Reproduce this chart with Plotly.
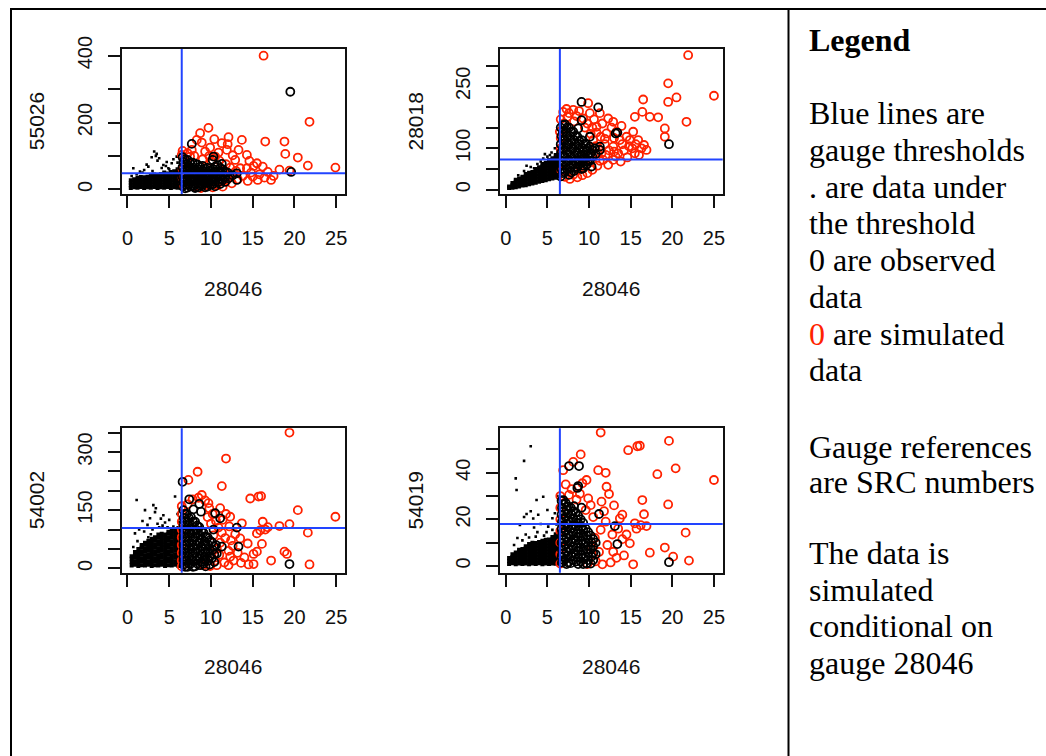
import plotly.graph_objects as go

W, H = 1046, 756

# ---------------- data ----------------
X_TITLE = "28046"
GAUGE_LABELS = ["55026", "28018", "54002", "54019"]
X_TICKS = [0, 5, 10, 15, 20, 25]
X_TICK_LABELS = ["0", "5", "10", "15", "20", "25"]
X_THRESHOLD = 6.5
Y_THRESHOLDS = [48, 73, 104, 18]
Y_TICKS = [
    [0, 100, 200, 300, 400],
    [0, 50, 100, 150, 200, 250, 300],
    [0, 50, 100, 150, 200, 250, 300, 350],
    [0, 10, 20, 30, 40, 50],
]
Y_TICK_LABELS = [
    ["0", "", "200", "", "400"],
    ["0", "", "100", "", "", "250", ""],
    ["0", "", "", "150", "", "", "300", ""],
    ["0", "", "20", "", "40", ""],
]
X_RANGE = [-0.69, 26.05]
Y_RANGES = [[-14, 420], [-10.4, 340], [-11.3, 361], [-2.9, 59.1]]

# ---- panel 1 : 55026 ----
P1_DOTS = [
    (0.4, 4), (0.4, 12), (0.4, 20), (0.4, 27),
    (0.8, 6), (0.8, 14), (0.8, 22), (0.8, 30),
    (1.2, 5), (1.2, 13), (1.2, 21), (1.2, 29), (1.2, 35),
    (1.6, 7), (1.6, 15), (1.6, 23), (1.6, 31), (1.6, 37),
    (2.0, 4), (2.0, 12), (2.0, 20), (2.0, 28), (2.0, 36),
    (2.4, 6), (2.4, 14), (2.4, 22), (2.4, 30), (2.4, 38),
    (2.8, 5), (2.8, 13), (2.8, 21), (2.8, 29), (2.8, 37), (2.8, 42),
    (3.2, 7), (3.2, 15), (3.2, 23), (3.2, 31), (3.2, 39), (3.2, 44),
    (3.6, 4), (3.6, 12), (3.6, 20), (3.6, 28), (3.6, 36), (3.6, 43),
    (4.0, 6), (4.0, 14), (4.0, 22), (4.0, 30), (4.0, 38), (4.0, 46),
    (4.4, 5), (4.4, 13), (4.4, 21), (4.4, 29), (4.4, 37), (4.4, 45), (4.4, 50),
    (4.8, 7), (4.8, 15), (4.8, 23), (4.8, 31), (4.8, 39), (4.8, 47),
    (5.2, 4), (5.2, 12), (5.2, 20), (5.2, 28), (5.2, 36), (5.2, 44), (5.2, 52),
    (5.6, 6), (5.6, 14), (5.6, 22), (5.6, 30), (5.6, 38), (5.6, 46), (5.6, 54),
    (6.0, 5), (6.0, 13), (6.0, 21), (6.0, 29), (6.0, 37), (6.0, 45), (6.0, 53), (6.0, 60),
    (6.3, 7), (6.3, 15), (6.3, 23), (6.3, 31), (6.3, 39), (6.3, 47), (6.3, 56),
]
P1_DOTS_SPARSE = [
    (3.2, 113), (3.5, 106), (2.9, 96), (3.8, 93), (4.3, 73), (2.5, 68), (1.5, 53),
    (4.9, 63), (5.3, 78), (5.9, 98), (6.0, 80), (4.7, 82), (2.3, 74), (0.7, 63),
    (3.6, 86), (4.1, 64), (5.5, 90), (2.0, 58), (6.2, 70), (1.1, 45), (0.5, 40),
    (3.0, 55), (5.0, 60), (3.4, 100), (4.6, 70), (1.8, 50),
]
P1_SIM = [
    (16.3, 400), (21.8, 202), (9.7, 184), (12.1, 156), (13.7, 148), (16.5, 143),
    (18.8, 143), (18.9, 106), (20.4, 95), (21.6, 71), (24.9, 65), (19.4, 56),
    (18.2, 59), (17.2, 28), (15.6, 28), (14.4, 25), (14.3, 103), (15.5, 78),
    (15.1, 70), (16.2, 68), (12.9, 88), (13.5, 63), (11.9, 118), (11.3, 138),
    (8.7, 168), (8.3, 148), (7.7, 118), (6.5, 103), (9.3, 113), (10.5, 98),
    (12.7, 48), (11.9, 28), (11.1, 23), (7.9, 8), (9.5, 13), (14.3, 63),
    (15.0, 38), (10.9, 110), (9.9, 125), (8.0, 100), (7.2, 108), (6.6, 115),
    (6.8, 92), (7.5, 98), (9.0, 90), (10.0, 85), (11.0, 86), (11.8, 75),
    (12.3, 65), (11.5, 55), (12.0, 40), (13.0, 55), (13.8, 40), (14.8, 50),
    (15.8, 45), (16.4, 35), (13.2, 30), (12.5, 18), (10.7, 12), (8.8, 4),
    (10.2, 6), (11.4, 8), (9.8, 100), (12.6, 102), (13.3, 118), (14.6, 85),
    (16.8, 52), (17.5, 40), (12.0, 135), (10.4, 150), (8.9, 140), (7.0, 75),
    (6.6, 60), (6.6, 35), (6.7, 12),
]
P1_OBS = [
    (19.5, 292), (7.7, 136), (19.6, 52), (13.1, 48), (13.1, 28), (10.3, 98),
    (11.3, 76), (8.7, 18), (10.1, 23),
    (6.6, 96), (6.7, 82), (6.6, 66), (6.7, 51), (6.6, 37), (6.7, 22), (6.6, 9),
    (7.2, 88), (7.3, 71), (7.2, 57), (7.3, 43), (7.2, 29), (7.3, 15), (7.2, 5),
    (7.8, 80), (7.9, 65), (7.8, 51), (7.9, 37), (7.8, 23), (7.9, 10),
    (8.4, 74), (8.5, 60), (8.4, 46), (8.5, 32), (8.4, 19), (8.5, 6),
    (9.0, 70), (9.1, 55), (9.0, 41), (9.1, 27), (9.0, 13),
    (9.6, 64), (9.7, 49), (9.6, 35), (9.7, 21), (9.6, 8),
    (10.2, 88), (10.3, 60), (10.2, 45), (10.3, 30), (10.2, 15),
    (10.8, 72), (10.9, 54), (10.8, 38), (10.9, 22),
    (11.4, 60), (11.5, 43), (11.4, 28), (12.0, 50), (12.1, 33), (12.6, 42),
    (6.9, 89), (6.9, 74), (6.9, 59), (6.9, 44), (6.9, 29), (6.9, 15), (6.9, 3),
    (7.5, 80), (7.5, 64), (7.5, 50), (7.5, 36), (7.5, 22), (7.5, 9),
    (8.1, 77), (8.1, 58), (8.1, 44), (8.1, 30), (8.1, 16), (8.1, 4),
    (8.7, 67), (8.7, 53), (8.7, 39), (8.7, 25), (8.7, 11),
    (9.3, 62), (9.3, 48), (9.3, 34), (9.3, 20), (9.3, 6),
    (9.9, 57), (9.9, 42), (9.9, 28), (9.9, 14),
    (10.5, 68), (10.5, 52), (10.5, 37), (10.5, 22), (10.5, 9),
    (11.1, 64), (11.1, 47), (11.1, 32), (11.1, 16),
    (11.7, 52), (11.7, 36), (11.7, 22),
]

# ---- panel 2 : 28018 ----
P2_DOTS = [
    (0.4, 4), (0.4, 8),
    (0.8, 5), (0.8, 11), (0.8, 16),
    (1.2, 6), (1.2, 12), (1.2, 19), (1.2, 24),
    (1.6, 8), (1.6, 14), (1.6, 21), (1.6, 27),
    (2.0, 10), (2.0, 17), (2.0, 24), (2.0, 31),
    (2.4, 11), (2.4, 18), (2.4, 25), (2.4, 32), (2.4, 38),
    (2.8, 13), (2.8, 20), (2.8, 27), (2.8, 34), (2.8, 41),
    (3.2, 15), (3.2, 22), (3.2, 29), (3.2, 36), (3.2, 43),
    (3.6, 17), (3.6, 24), (3.6, 31), (3.6, 38), (3.6, 45), (3.6, 50),
    (4.0, 19), (4.0, 26), (4.0, 33), (4.0, 40), (4.0, 47), (4.0, 54),
    (4.4, 21), (4.4, 28), (4.4, 35), (4.4, 42), (4.4, 49), (4.4, 56), (4.4, 62),
    (4.8, 23), (4.8, 30), (4.8, 37), (4.8, 44), (4.8, 51), (4.8, 58), (4.8, 65),
    (5.2, 25), (5.2, 32), (5.2, 39), (5.2, 46), (5.2, 53), (5.2, 60), (5.2, 67), (5.2, 72),
    (5.6, 27), (5.6, 34), (5.6, 41), (5.6, 48), (5.6, 55), (5.6, 62), (5.6, 69), (5.6, 76),
    (6.0, 29), (6.0, 36), (6.0, 43), (6.0, 50), (6.0, 57), (6.0, 64), (6.0, 71), (6.0, 78), (6.0, 84),
    (6.3, 31), (6.3, 38), (6.3, 45), (6.3, 52), (6.3, 59), (6.3, 66), (6.3, 73), (6.3, 80), (6.3, 87),
]
P2_DOTS_SPARSE = [
    (4.7, 86), (2.5, 58), (3.0, 55), (4.2, 68), (5.0, 80), (5.5, 90), (3.8, 62),
    (1.5, 35), (6.2, 95), (5.9, 100), (2.2, 45), (4.5, 75), (3.4, 52), (5.3, 84),
]
P2_SIM = [
    (21.9, 325), (19.5, 257), (25.0, 227), (20.5, 223), (19.5, 212), (16.5, 218),
    (16.4, 188), (17.3, 176), (18.3, 175), (15.5, 176), (21.7, 164), (19.1, 148),
    (19.1, 128), (13.9, 154), (15.3, 140), (14.9, 120), (15.9, 120), (16.9, 96),
    (15.5, 88), (12.3, 172), (11.3, 185), (10.1, 185), (10.9, 152), (12.1, 136),
    (12.9, 104), (13.5, 88), (11.5, 88), (11.7, 72), (12.9, 72), (8.1, 36),
    (7.1, 31), (8.9, 56), (9.5, 72), (6.9, 188), (6.5, 140), (8.1, 193),
    (9.9, 209), (7.4, 176), (12.9, 164), (11.9, 123), (14.5, 128), (13.3, 140),
    (13.7, 120), (10.5, 120), (11.0, 88), (10.1, 80),
    (6.6, 170), (7.0, 160), (7.6, 185), (8.5, 178), (9.3, 172), (9.8, 160),
    (10.4, 150), (10.9, 138), (11.4, 128), (11.9, 110), (12.4, 95), (13.2, 80),
    (14.2, 95), (14.8, 105), (15.6, 110), (16.3, 100), (16.0, 84), (14.6, 78),
    (13.8, 68), (12.3, 60), (11.0, 58), (10.4, 48), (9.8, 40), (9.2, 35),
    (8.6, 30), (7.7, 26), (6.7, 45), (6.6, 100), (6.6, 125), (10.8, 105),
    (10.2, 135), (9.5, 150), (8.2, 165),
    (7.3, 195), (8.8, 190), (10.6, 170), (11.6, 160), (12.7, 150), (13.0, 125),
    (14.0, 110), (15.2, 100), (16.6, 108), (12.0, 84), (13.0, 92), (11.3, 70),
]
P2_OBS = [
    (9.1, 212), (11.1, 199), (13.2, 136), (13.4, 138), (19.6, 110), (9.1, 168),
    (8.7, 148), (10.3, 56), (9.3, 52), (6.9, 156), (10.1, 128), (11.3, 104),
    (6.6, 150), (6.7, 130), (6.6, 110), (6.7, 90), (6.6, 70), (6.7, 50), (6.6, 32),
    (7.1, 158), (7.2, 140), (7.1, 120), (7.2, 100), (7.1, 80), (7.2, 60), (7.1, 42),
    (7.6, 150), (7.7, 130), (7.6, 110), (7.7, 90), (7.6, 70), (7.7, 52), (7.6, 36),
    (8.1, 140), (8.2, 120), (8.1, 100), (8.2, 80), (8.1, 60), (8.2, 45),
    (8.6, 128), (8.7, 110), (8.6, 90), (8.7, 70), (8.6, 55),
    (9.1, 120), (9.2, 100), (9.1, 84), (9.2, 66), (9.1, 50),
    (9.6, 110), (9.7, 94), (9.6, 76), (9.7, 60),
    (10.1, 104), (10.2, 88), (10.1, 70), (10.7, 100), (10.8, 86), (11.3, 96),
    (6.85, 140), (6.85, 120), (6.85, 100), (6.85, 80), (6.85, 60), (6.85, 40),
    (7.35, 150), (7.35, 130), (7.35, 110), (7.35, 90), (7.35, 70), (7.35, 50),
    (7.85, 140), (7.85, 120), (7.85, 100), (7.85, 80), (7.85, 60), (7.85, 42),
    (8.35, 130), (8.35, 110), (8.35, 90), (8.35, 70), (8.35, 52),
    (8.85, 118), (8.85, 100), (8.85, 80), (8.85, 62),
    (9.35, 110), (9.35, 92), (9.35, 74), (9.35, 58),
    (9.85, 100), (9.85, 84), (9.85, 68), (10.4, 95), (10.4, 80),
]

# ---- panel 3 : 54002 ----
P3_DOTS = [
    (0.5, 7), (0.5, 16), (0.5, 25), (0.5, 31),
    (0.9, 9), (0.9, 18), (0.9, 27), (0.9, 36), (0.9, 42),
    (1.3, 6), (1.3, 15), (1.3, 24), (1.3, 33), (1.3, 42), (1.3, 50),
    (1.7, 8), (1.7, 17), (1.7, 26), (1.7, 35), (1.7, 44), (1.7, 53), (1.7, 60),
    (2.1, 7), (2.1, 16), (2.1, 25), (2.1, 34), (2.1, 43), (2.1, 52), (2.1, 61), (2.1, 66),
    (2.5, 9), (2.5, 18), (2.5, 27), (2.5, 36), (2.5, 45), (2.5, 54), (2.5, 63), (2.5, 71),
    (2.9, 6), (2.9, 15), (2.9, 24), (2.9, 33), (2.9, 42), (2.9, 51), (2.9, 60), (2.9, 69), (2.9, 76),
    (3.3, 8), (3.3, 17), (3.3, 26), (3.3, 35), (3.3, 44), (3.3, 53), (3.3, 62), (3.3, 71), (3.3, 80),
    (3.7, 7), (3.7, 16), (3.7, 25), (3.7, 34), (3.7, 43), (3.7, 52), (3.7, 61), (3.7, 70), (3.7, 79), (3.7, 87),
    (4.1, 9), (4.1, 18), (4.1, 27), (4.1, 36), (4.1, 45), (4.1, 54), (4.1, 63), (4.1, 72), (4.1, 81), (4.1, 89),
    (4.5, 6), (4.5, 15), (4.5, 24), (4.5, 33), (4.5, 42), (4.5, 51), (4.5, 60), (4.5, 69), (4.5, 78), (4.5, 87),
    (4.9, 8), (4.9, 17), (4.9, 26), (4.9, 35), (4.9, 44), (4.9, 53), (4.9, 62), (4.9, 71), (4.9, 80), (4.9, 89), (4.9, 94),
    (5.3, 7), (5.3, 16), (5.3, 25), (5.3, 34), (5.3, 43), (5.3, 52), (5.3, 61), (5.3, 70), (5.3, 79), (5.3, 88), (5.3, 96),
    (5.7, 9), (5.7, 18), (5.7, 27), (5.7, 36), (5.7, 45), (5.7, 54), (5.7, 63), (5.7, 72), (5.7, 81), (5.7, 90), (5.7, 98),
    (6.1, 6), (6.1, 15), (6.1, 24), (6.1, 33), (6.1, 42), (6.1, 51), (6.1, 60), (6.1, 69), (6.1, 78), (6.1, 87), (6.1, 96), (6.1, 104),
    (6.4, 8), (6.4, 17), (6.4, 26), (6.4, 35), (6.4, 44), (6.4, 53), (6.4, 62), (6.4, 71), (6.4, 80), (6.4, 89), (6.4, 100),
]
P3_DOTS_SPARSE = [
    (1.1, 176), (2.1, 150), (3.1, 163), (3.4, 155), (3.3, 145), (4.3, 137), (4.0, 128),
    (2.7, 129), (1.8, 122), (5.7, 185), (4.5, 118), (2.4, 112), (3.6, 115), (5.0, 125),
    (1.4, 100), (0.9, 90), (2.0, 95), (3.8, 106), (5.5, 108), (4.8, 106), (6.0, 140),
    (6.2, 120), (1.2, 70), (2.8, 88), (3.0, 100), (4.2, 110), (2.5, 80), (0.7, 55),
]
P3_SIM = [
    (19.4, 350), (11.8, 283), (8.4, 249), (7.3, 228), (11.3, 212), (14.7, 180),
    (15.7, 185), (16.0, 186), (8.9, 189), (9.7, 168), (20.4, 150), (24.9, 133),
    (11.1, 155), (12.3, 133), (13.7, 116), (16.2, 120), (16.8, 106), (18.2, 109),
    (19.4, 114), (21.6, 92), (15.5, 90), (15.9, 98), (16.5, 100), (13.5, 77),
    (14.4, 64), (16.1, 63), (18.8, 43), (19.1, 37), (15.5, 43), (15.1, 37),
    (12.3, 30), (17.2, 20), (15.1, 11), (21.8, 10), (10.7, 8), (12.1, 8),
    (14.5, 10), (9.1, 8),
    (6.5, 160), (6.5, 140), (6.5, 120), (6.5, 100), (6.5, 80), (6.5, 60),
    (6.5, 40), (6.5, 20), (6.5, 5),
    (7.2, 165), (7.8, 178), (8.5, 182), (9.3, 175), (9.8, 155), (10.2, 140),
    (10.6, 122), (10.9, 105), (11.3, 92), (11.7, 78), (11.1, 66), (10.7, 50),
    (11.0, 35), (10.5, 20), (9.9, 6), (11.6, 15), (12.1, 45), (12.6, 58),
    (12.9, 88), (12.2, 108), (11.8, 140), (10.0, 115), (12.7, 20), (13.2, 40),
    (14.0, 28), (13.6, 14), (11.4, 125), (12.4, 72), (10.3, 85), (9.6, 132),
]
P3_OBS = [
    (6.6, 223), (7.4, 178), (8.6, 166), (8.8, 146), (10.5, 142), (11.1, 129),
    (13.1, 105), (11.3, 56), (13.3, 56), (19.4, 11), (7.9, 152), (10.3, 100),
    (6.7, 150), (6.75, 130), (6.7, 110), (6.75, 90), (6.7, 70), (6.75, 50), (6.7, 30), (6.75, 10),
    (7.1, 140), (7.2, 120), (7.1, 100), (7.2, 80), (7.1, 60), (7.2, 40), (7.1, 20), (7.2, 4),
    (7.6, 132), (7.7, 110), (7.6, 90), (7.7, 70), (7.6, 50), (7.7, 30), (7.6, 12),
    (8.1, 120), (8.2, 100), (8.1, 80), (8.2, 60), (8.1, 40), (8.2, 20), (8.1, 5),
    (8.6, 106), (8.7, 85), (8.6, 65), (8.7, 45), (8.6, 25), (8.7, 8),
    (9.1, 92), (9.2, 70), (9.1, 50), (9.2, 30), (9.1, 12),
    (9.6, 80), (9.7, 60), (9.6, 40), (9.7, 20),
    (10.1, 68), (10.2, 48), (10.1, 26), (10.6, 60), (10.7, 38),
    (6.9, 140), (6.9, 120), (6.9, 100), (6.9, 80), (6.9, 60), (6.9, 40), (6.9, 20), (6.9, 4),
    (7.35, 130), (7.35, 110), (7.35, 90), (7.35, 70), (7.35, 50), (7.35, 30), (7.35, 12),
    (7.85, 120), (7.85, 100), (7.85, 80), (7.85, 60), (7.85, 40), (7.85, 20), (7.85, 4),
    (8.35, 110), (8.35, 90), (8.35, 70), (8.35, 50), (8.35, 30), (8.35, 12),
    (8.85, 96), (8.85, 76), (8.85, 56), (8.85, 36), (8.85, 16),
    (9.35, 82), (9.35, 62), (9.35, 42), (9.35, 22), (9.35, 5),
    (9.85, 72), (9.85, 50), (9.85, 30), (9.85, 10),
    (10.4, 56), (10.4, 36), (10.4, 16),
]

# ---- panel 4 : 54019 ----
P4_DOTS = [
    (0.4, 0.8), (0.4, 2.1), (0.4, 3.4),
    (0.8, 1.2), (0.8, 2.5), (0.8, 3.8), (0.8, 5.0),
    (1.2, 0.7), (1.2, 2.0), (1.2, 3.3), (1.2, 4.6), (1.2, 5.8),
    (1.6, 1.0), (1.6, 2.3), (1.6, 3.6), (1.6, 4.9), (1.6, 6.2), (1.6, 7.0),
    (2.0, 0.8), (2.0, 2.1), (2.0, 3.4), (2.0, 4.7), (2.0, 6.0), (2.0, 7.3),
    (2.4, 1.1), (2.4, 2.4), (2.4, 3.7), (2.4, 5.0), (2.4, 6.3), (2.4, 7.6), (2.4, 8.5),
    (2.8, 0.7), (2.8, 2.0), (2.8, 3.3), (2.8, 4.6), (2.8, 5.9), (2.8, 7.2), (2.8, 8.5), (2.8, 9.4),
    (3.2, 1.0), (3.2, 2.3), (3.2, 3.6), (3.2, 4.9), (3.2, 6.2), (3.2, 7.5), (3.2, 8.8), (3.2, 10.0),
    (3.6, 0.8), (3.6, 2.1), (3.6, 3.4), (3.6, 4.7), (3.6, 6.0), (3.6, 7.3), (3.6, 8.6), (3.6, 9.9),
    (4.0, 1.2), (4.0, 2.5), (4.0, 3.8), (4.0, 5.1), (4.0, 6.4), (4.0, 7.7), (4.0, 9.0), (4.0, 10.3),
    (4.4, 0.7), (4.4, 2.0), (4.4, 3.3), (4.4, 4.6), (4.4, 5.9), (4.4, 7.2), (4.4, 8.5), (4.4, 9.8), (4.4, 10.8),
    (4.8, 1.0), (4.8, 2.3), (4.8, 3.6), (4.8, 4.9), (4.8, 6.2), (4.8, 7.5), (4.8, 8.8), (4.8, 10.1), (4.8, 11.2),
    (5.2, 0.8), (5.2, 2.1), (5.2, 3.4), (5.2, 4.7), (5.2, 6.0), (5.2, 7.3), (5.2, 8.6), (5.2, 9.9), (5.2, 11.4),
    (5.6, 1.1), (5.6, 2.4), (5.6, 3.7), (5.6, 5.0), (5.6, 6.3), (5.6, 7.6), (5.6, 8.9), (5.6, 10.2), (5.6, 11.5), (5.6, 12.4),
    (6.0, 0.9), (6.0, 2.2), (6.0, 3.5), (6.0, 4.8), (6.0, 6.1), (6.0, 7.4), (6.0, 8.7), (6.0, 10.0), (6.0, 11.3), (6.0, 12.6), (6.0, 13.6),
    (6.3, 1.2), (6.3, 2.5), (6.3, 3.8), (6.3, 5.1), (6.3, 6.4), (6.3, 7.7), (6.3, 9.0), (6.3, 10.3), (6.3, 11.6), (6.3, 12.9), (6.3, 14.8),
]
P4_DOTS_SPARSE = [
    (3.0, 51.4), (2.2, 45.1), (1.2, 37.6), (1.3, 32.6), (3.7, 28.3), (4.5, 29.7),
    (2.5, 22.3), (2.2, 21.0), (3.0, 23.5), (1.7, 17.6), (3.3, 20.4), (3.9, 22.0),
    (5.1, 16.9), (5.6, 15.5), (3.8, 14.5), (4.6, 13.0), (5.9, 22.6), (5.6, 20.5),
    (2.4, 13.5), (1.4, 12.0), (3.4, 16.5), (6.1, 17.8), (4.2, 18.0), (5.0, 24.0),
    (2.8, 12.2), (6.2, 30.0), (1.0, 9.0), (4.9, 14.5), (2.0, 11.0), (3.6, 12.6),
]
P4_SIM = [
    (11.4, 57.3), (19.6, 53.7), (14.7, 49.7), (15.8, 51.4), (16.1, 51.6), (20.4, 41.9),
    (18.2, 39.4), (25.0, 36.9), (9.0, 47.9), (8.1, 44.7), (6.9, 41.1), (11.1, 41.1),
    (12.0, 40.0), (9.7, 36.9), (9.2, 35.5), (12.1, 34.0), (12.4, 30.9), (16.4, 28.3),
    (19.5, 26.4), (16.6, 22.2), (10.2, 26.1), (11.5, 27.6), (13.7, 20.4), (15.5, 18.3),
    (16.9, 17.1), (15.7, 16.0), (16.2, 17.5), (21.6, 14.3), (14.9, 9.7), (14.0, 11.5),
    (12.8, 13.5), (12.9, 6.1), (17.3, 5.7), (19.1, 7.9), (20.1, 4.0), (22.0, 2.3),
    (15.3, 0.7), (11.6, 0.7), (12.6, 1.5), (10.8, 2.0), (11.2, 6.0), (12.2, 9.0),
    (10.7, 12.0), (11.4, 15.5), (12.0, 19.0), (10.5, 21.0), (9.6, 24.0), (9.9, 29.0),
    (8.9, 31.0), (7.9, 33.0), (7.2, 35.0), (6.55, 30.0), (6.55, 25.0), (6.55, 20.0),
    (6.55, 15.0), (6.55, 10.0), (6.55, 5.0), (6.55, 1.0), (13.3, 3.5), (14.2, 4.5),
    (13.5, 16.0), (14.5, 13.5), (11.8, 23.5), (10.3, 8.0), (9.8, 0.8), (8.5, 28.5),
    (7.6, 30.5), (13.0, 26.0), (14.0, 22.0),
]
P4_OBS = [
    (7.6, 42.9), (8.8, 42.9), (8.7, 34.3), (8.2, 25.7), (9.1, 25.0), (11.2, 22.3),
    (13.1, 17.1), (13.4, 9.4), (19.6, 1.6), (6.9, 28.3), (8.6, 33.5),
    (6.7, 28), (6.75, 25), (6.7, 22), (6.75, 19), (6.7, 16), (6.75, 13), (6.7, 10), (6.75, 7), (6.7, 4), (6.75, 1.5),
    (7.2, 27), (7.3, 24), (7.2, 21), (7.3, 18), (7.2, 15), (7.3, 12), (7.2, 9), (7.3, 6), (7.2, 3), (7.3, 0.8),
    (7.8, 25), (7.9, 22), (7.8, 19), (7.9, 16), (7.8, 13), (7.9, 10), (7.8, 7), (7.9, 4), (7.8, 1.2),
    (8.4, 23), (8.5, 20), (8.4, 17), (8.5, 14), (8.4, 11), (8.5, 8), (8.4, 5), (8.5, 2),
    (9.0, 20), (9.1, 17), (9.0, 14), (9.1, 11), (9.0, 8), (9.1, 5), (9.0, 2),
    (9.6, 16), (9.7, 13), (9.6, 10), (9.7, 7), (9.6, 4), (9.7, 1),
    (10.2, 13), (10.3, 10), (10.2, 7), (10.3, 4), (10.2, 1), (10.8, 10), (10.8, 5),
    (6.95, 26.5), (6.95, 23.5), (6.95, 20.5), (6.95, 17.5), (6.95, 14.5), (6.95, 11.5), (6.95, 8.5), (6.95, 5.5), (6.95, 2.5),
    (7.5, 25.5), (7.5, 22.5), (7.5, 19.5), (7.5, 16.5), (7.5, 13.5), (7.5, 10.5), (7.5, 7.5), (7.5, 4.5), (7.5, 1.5),
    (8.1, 23.5), (8.1, 20.5), (8.1, 17.5), (8.1, 14.5), (8.1, 11.5), (8.1, 8.5), (8.1, 5.5), (8.1, 2.5),
    (8.7, 21.5), (8.7, 18.5), (8.7, 15.5), (8.7, 12.5), (8.7, 9.5), (8.7, 6.5), (8.7, 3.5), (8.7, 0.8),
    (9.3, 18.5), (9.3, 15.5), (9.3, 12.5), (9.3, 9.5), (9.3, 6.5), (9.3, 3.5), (9.3, 0.8),
    (9.9, 14.5), (9.9, 11.5), (9.9, 8.5), (9.9, 5.5), (9.9, 2.5),
    (10.5, 11.5), (10.5, 8.5), (10.5, 5.5), (10.5, 2.5),
]

LEGEND_TITLE = "Legend"
LEGEND_LINES = [
    "Blue lines are", "gauge thresholds", ". are data under", "the threshold",
    "0 are observed", "data", "RED0 are simulated", "data",
    "Gauge references", "are SRC numbers",
    "The data is", "simulated", "conditional on", "gauge 28046",
]

# ---------------- layout constants (pixels) ----------------
PANEL_BOXES = [  # left, top, right, bottom
    (121.7, 49, 345, 194),
    (500, 49, 722.7, 194),
    (121.7, 428.3, 345, 572.7),
    (500, 428.3, 722.7, 572.7),
]
LEGEND_LINE_Y = [113, 150, 187, 223, 260, 297, 334, 370, 447, 482, 553, 590, 626, 663]
RED = "#ff2200"
BLUE = "#2244ff"
INK = "#111111"
SANS = "Liberation Sans, Arial, sans-serif"
SERIF = "Liberation Serif, Times New Roman, serif"


def px(x):
    return x / W


def py(y):
    return 1 - y / H


panels = [
    (P1_DOTS, P1_DOTS_SPARSE, P1_SIM, P1_OBS),
    (P2_DOTS, P2_DOTS_SPARSE, P2_SIM, P2_OBS),
    (P3_DOTS, P3_DOTS_SPARSE, P3_SIM, P3_OBS),
    (P4_DOTS, P4_DOTS_SPARSE, P4_SIM, P4_OBS),
]

fig = go.Figure()
shapes = []
annotations = []


def add_points(pts, xa, ya, marker):
    fig.add_trace(go.Scatter(
        x=[p[0] for p in pts], y=[p[1] for p in pts], mode="markers",
        xaxis=xa, yaxis=ya, hoverinfo="skip", showlegend=False, marker=marker,
    ))


for i, (dots, sparse, sim, obs) in enumerate(panels):
    n = "" if i == 0 else str(i + 1)
    xa, ya = "x" + n, "y" + n
    add_points(dots, xa, ya, dict(symbol="square", size=4, color="black", line=dict(width=0)))
    add_points(sparse, xa, ya, dict(symbol="square", size=2.6, color="black", line=dict(width=0)))
    add_points(sim, xa, ya, dict(symbol="circle-open", size=8, color=RED, line=dict(width=1.8)))
    add_points(obs, xa, ya, dict(symbol="circle-open", size=8, color="black", line=dict(width=1.8)))

    left, top, right, bottom = PANEL_BOXES[i]
    common = dict(
        showline=True, linecolor=INK, linewidth=1.8, mirror=True,
        ticks="outside", ticklen=12, tickwidth=1.6, tickcolor=INK,
        showgrid=False, zeroline=False, fixedrange=True, automargin=False,
        tickfont=dict(family=SANS, size=20, color=INK),
    )
    fig.layout["xaxis" + n] = dict(
        domain=[px(left), px(right)], anchor=ya, range=X_RANGE,
        tickmode="array", tickvals=X_TICKS, ticktext=X_TICK_LABELS,
        ticklabelstandoff=13, **common,
    )
    fig.layout["yaxis" + n] = dict(
        domain=[py(bottom), py(top)], anchor=xa, range=Y_RANGES[i],
        tickmode="array", tickvals=Y_TICKS[i], ticktext=Y_TICK_LABELS[i],
        tickangle=-90, ticklabelstandoff=8, **common,
    )
    # threshold lines
    shapes.append(dict(type="line", xref=xa, yref=ya + " domain",
                       x0=X_THRESHOLD, x1=X_THRESHOLD, y0=0, y1=1,
                       line=dict(color=BLUE, width=2), layer="above"))
    shapes.append(dict(type="line", xref=xa + " domain", yref=ya,
                       x0=0, x1=1, y0=Y_THRESHOLDS[i], y1=Y_THRESHOLDS[i],
                       line=dict(color=BLUE, width=2), layer="above"))
    # axis titles
    annotations.append(dict(text=X_TITLE, xref="paper", yref="paper",
                            x=px((left + right) / 2), y=py(bottom + 94),
                            xanchor="center", yanchor="middle", showarrow=False,
                            font=dict(family=SANS, size=21, color=INK)))
    annotations.append(dict(text=GAUGE_LABELS[i], xref="paper", yref="paper",
                            x=px(left - 85), y=py((top + bottom) / 2),
                            xanchor="center", yanchor="middle", showarrow=False,
                            textangle=-90,
                            font=dict(family=SANS, size=21, color=INK)))

# table borders
shapes.append(dict(type="line", xref="paper", yref="paper", x0=px(10), x1=px(1050),
                   y0=py(9), y1=py(9), line=dict(color="black", width=2)))
shapes.append(dict(type="line", xref="paper", yref="paper", x0=px(11), x1=px(11),
                   y0=py(8), y1=py(760), line=dict(color="black", width=2)))
shapes.append(dict(type="line", xref="paper", yref="paper", x0=px(788.5), x1=px(788.5),
                   y0=py(8), y1=py(760), line=dict(color="black", width=2)))

# legend text box
annotations.append(dict(text="<b>" + LEGEND_TITLE + "</b>", xref="paper", yref="paper",
                        x=px(807), y=py(40), xanchor="left", yanchor="middle",
                        showarrow=False, font=dict(family=SERIF, size=32, color="black")))
for line, yy in zip(LEGEND_LINES, LEGEND_LINE_Y):
    if line.startswith("RED"):
        txt = '<span style="color:%s">0</span>%s' % (RED, line[4:])
    else:
        txt = line
    annotations.append(dict(text=txt, xref="paper", yref="paper",
                            x=px(807), y=py(yy), xanchor="left", yanchor="middle",
                            showarrow=False, font=dict(family=SERIF, size=32, color="black")))

fig.update_layout(
    template="none",
    width=W, height=H, margin=dict(l=0, r=0, t=0, b=0, pad=0, autoexpand=False),
    paper_bgcolor="white", plot_bgcolor="white",
    shapes=shapes, annotations=annotations, showlegend=False,
    hovermode=False,
)
fig.write_html("out.html")
